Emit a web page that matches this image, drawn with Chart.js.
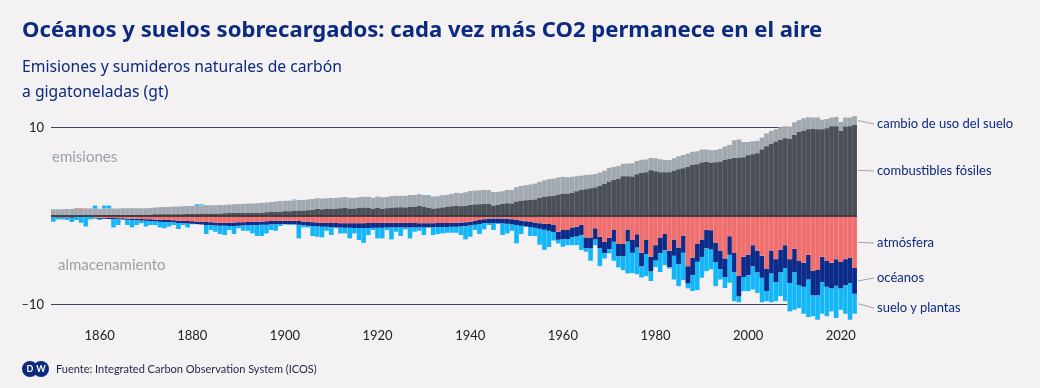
<!DOCTYPE html>
<html><head><meta charset="utf-8">
<script src="https://cdn.jsdelivr.net/npm/chart.js@4.4.1/dist/chart.umd.min.js"></script>
<style>
html,body{margin:0;padding:0;background:#f3f1f2;}
#wrap{position:relative;width:1040px;height:388px;overflow:hidden;font-family:Lato,'Noto Sans',sans-serif;}
#c{position:absolute;left:0;top:0;}
.t{position:absolute;white-space:nowrap;line-height:1.2;}
#title{left:22px;top:15px;font-family:'Noto Sans',sans-serif;font-size:22.1px;line-height:26px;font-weight:700;color:#0b2a80;}
.sub{left:22px;font-family:'Noto Sans',sans-serif;font-size:15.7px;line-height:20px;color:#0b2a80;}
.ann{font-size:15px;color:#9ca1a8;}
.lab{left:877px;font-size:13px;color:#0b2a80;}
#foot{left:56px;top:362px;font-size:11px;color:#1d2640;}
.dw{position:absolute;top:361px;width:16px;height:16px;border-radius:50%;background:#0b2a80;color:#fff;font:700 9px/16px Lato,sans-serif;text-align:center;}
</style></head>
<body><div id="wrap">
<canvas id="c" width="1040" height="388"></canvas>
<div class="t" id="title">Océanos y suelos sobrecargados: cada vez más CO2 permanece en el aire</div>
<div class="t sub" style="top:56px">Emisiones y sumideros naturales de carbón</div>
<div class="t sub" style="top:81px">a gigatoneladas (gt)</div>
<div class="t ann" style="left:52px;top:147px">emisiones</div>
<div class="t ann" style="left:58px;top:255px">almacenamiento</div>
<div class="dw" style="left:22px">D</div><div class="dw" style="left:33px">W</div>
<div class="t" id="foot">Fuente: Integrated Carbon Observation System (ICOS)</div>
<div id="labs"></div>
</div>
<script>
// ---- categories & ticks ----
const years = Array.from({length:174},(_,i)=>1850+i);
const xTickYears = [1860,1880,1900,1920,1940,1960,1980,2000,2020];
const yTickValues = [-10,0,10];

// ---- series (GtC per year) ----
const fossil = [
0.05,0.05,0.05,0.06,0.06,0.07,0.07,0.08,0.08,0.09,
0.09,0.10,0.10,0.11,0.12,0.13,0.13,0.14,0.14,0.15,
0.15,0.17,0.19,0.20,0.19,0.20,0.21,0.21,0.21,0.23,
0.24,0.26,0.27,0.28,0.28,0.28,0.28,0.30,0.33,0.33,
0.36,0.37,0.37,0.36,0.37,0.40,0.42,0.44,0.47,0.51,
0.53,0.55,0.56,0.61,0.62,0.66,0.71,0.79,0.75,0.79,
0.82,0.83,0.88,0.94,0.85,0.84,0.90,0.95,0.94,0.81,
0.93,0.83,0.87,0.96,0.97,0.98,0.97,1.05,1.05,1.12,
1.03,0.94,0.85,0.89,0.97,1.01,1.10,1.17,1.10,1.17,
1.27,1.31,1.32,1.36,1.35,1.18,1.24,1.36,1.43,1.41,
1.63,1.74,1.77,1.82,1.88,2.03,2.16,2.24,2.30,2.42,
2.55,2.55,2.64,2.79,2.93,3.03,3.15,3.24,3.42,3.62,
3.91,4.07,4.25,4.49,4.49,4.48,4.73,4.88,4.96,5.17,
5.08,4.95,4.94,4.96,5.13,5.29,5.41,5.55,5.76,5.87,
6.07,6.14,6.06,6.08,6.16,6.33,6.46,6.58,6.62,6.64,
6.87,7.00,7.11,7.54,7.90,8.15,8.42,8.64,8.80,8.72,
9.20,9.54,9.66,9.83,9.86,9.81,9.81,9.93,10.15,10.16,
9.63,10.14,10.15,10.30];

const landUse = [
0.71,0.71,0.72,0.72,0.72,0.73,0.73,0.73,0.73,0.74,
0.74,0.74,0.74,0.74,0.74,0.74,0.74,0.74,0.73,0.73,
0.74,0.76,0.78,0.80,0.82,0.84,0.86,0.87,0.88,0.89,
0.90,0.91,0.92,0.93,0.94,0.95,0.96,0.97,0.98,0.99,
1.00,1.02,1.04,1.06,1.08,1.10,1.12,1.14,1.16,1.18,
1.19,1.20,1.20,1.21,1.21,1.22,1.22,1.22,1.22,1.22,
1.22,1.22,1.22,1.22,1.23,1.23,1.23,1.24,1.25,1.26,
1.27,1.28,1.29,1.30,1.31,1.31,1.32,1.32,1.33,1.33,
1.34,1.34,1.35,1.36,1.38,1.40,1.42,1.45,1.48,1.52,
1.56,1.58,1.60,1.60,1.60,1.55,1.50,1.45,1.50,1.55,
1.62,1.68,1.72,1.76,1.80,1.85,1.90,1.92,1.95,1.95,
1.90,1.85,1.80,1.72,1.65,1.60,1.55,1.52,1.50,1.52,
1.55,1.50,1.40,1.42,1.45,1.48,1.50,1.48,1.45,1.42,
1.45,1.48,1.40,1.38,1.42,1.48,1.50,1.52,1.50,1.47,
1.45,1.40,1.38,1.40,1.45,1.55,1.60,2.00,2.05,1.75,
1.50,1.45,1.40,1.35,1.45,1.50,1.40,1.40,1.35,1.40,
1.40,1.30,1.40,1.35,1.30,1.35,1.10,1.05,1.00,1.05,
1.00,1.00,1.00,1.00];

const atmosphere = [
-0.10,-0.12,-0.13,-0.14,-0.15,0.08,0.08,0.08,0.08,-0.18,
-0.20,-0.21,-0.22,-0.24,-0.25,-0.26,-0.28,-0.30,-0.32,-0.34,
-0.36,-0.38,-0.40,-0.42,-0.44,-0.46,-0.49,-0.52,-0.55,-0.58,
-0.60,-0.63,-0.66,-0.69,-0.71,-0.73,-0.75,-0.75,-0.75,-0.74,
-0.72,-0.70,-0.68,-0.66,-0.64,-0.62,-0.60,-0.58,-0.56,-0.55,
-0.54,-0.54,-0.55,-0.58,-0.62,-0.66,-0.70,-0.73,-0.75,-0.76,
-0.78,-0.80,-0.81,-0.82,-0.82,-0.82,-0.82,-0.81,-0.80,-0.79,
-0.78,-0.77,-0.76,-0.76,-0.76,-0.77,-0.78,-0.79,-0.80,-0.81,
-0.82,-0.82,-0.81,-0.80,-0.79,-0.78,-0.77,-0.76,-0.74,-0.70,
-0.64,-0.55,-0.45,-0.36,-0.30,-0.27,-0.27,-0.28,-0.32,-0.38,
-0.45,-0.52,-0.60,-0.68,-0.74,-0.82,-0.88,-0.91,-1.02,-1.78,
-1.59,-1.59,-1.29,-1.21,-1.02,-2.42,-2.42,-1.40,-2.35,-2.92,
-2.46,-1.59,-3.18,-3.18,-1.52,-2.73,-2.08,-4.17,-2.73,-4.62,
-3.30,-2.42,-2.05,-3.94,-2.65,-3.56,-2.27,-5.68,-4.70,-3.18,
-2.65,-1.55,-1.60,-3.00,-3.90,-4.80,-2.30,-4.20,-6.80,-4.60,
-4.40,-3.30,-3.90,-4.50,-6.00,-3.90,-4.90,-3.80,-3.30,-4.90,
-3.70,-5.10,-5.30,-4.40,-6.20,-6.10,-4.60,-5.10,-5.30,-4.90,
-5.20,-4.90,-4.70,-5.90];

const oceans = [
-0.05,-0.05,-0.06,-0.06,-0.07,-0.07,-0.08,-0.08,-0.09,-0.10,
-0.10,-0.11,-0.12,-0.13,-0.13,-0.14,-0.15,-0.16,-0.17,-0.18,
-0.19,-0.20,-0.21,-0.22,-0.23,-0.24,-0.25,-0.26,-0.27,-0.28,
-0.29,-0.30,-0.31,-0.32,-0.33,-0.34,-0.35,-0.36,-0.37,-0.38,
-0.38,-0.38,-0.38,-0.38,-0.38,-0.38,-0.38,-0.38,-0.38,-0.38,
-0.38,-0.39,-0.40,-0.41,-0.42,-0.43,-0.44,-0.45,-0.46,-0.47,
-0.48,-0.49,-0.50,-0.51,-0.52,-0.53,-0.54,-0.55,-0.55,-0.55,
-0.55,-0.55,-0.55,-0.54,-0.53,-0.52,-0.51,-0.50,-0.49,-0.48,
-0.47,-0.47,-0.46,-0.46,-0.46,-0.46,-0.46,-0.45,-0.45,-0.45,
-0.44,-0.44,-0.45,-0.47,-0.50,-0.53,-0.55,-0.56,-0.57,-0.57,
-0.57,-0.57,-0.57,-0.56,-0.58,-0.62,-0.68,-0.75,-0.80,-0.90,
-1.00,-1.05,-1.10,-1.12,-1.15,-1.20,-1.25,-1.25,-1.28,-1.30,
-1.30,-1.32,-1.38,-1.40,-1.38,-1.42,-1.50,-1.55,-1.60,-1.65,
-1.75,-1.80,-1.82,-1.85,-1.85,-1.88,-1.90,-1.95,-2.00,-2.00,
-2.00,-2.10,-2.20,-2.20,-2.10,-2.10,-2.10,-2.20,-2.30,-2.30,
-2.30,-2.40,-2.50,-2.50,-2.50,-2.60,-2.60,-2.60,-2.60,-2.70,
-2.70,-2.70,-2.70,-2.80,-2.80,-2.90,-2.90,-2.90,-2.90,-3.00,
-3.00,-2.90,-2.90,-2.90];

const landPlants = [
-0.49,-0.22,-0.20,-0.25,-0.46,-0.38,-0.67,-1.12,-0.30,0.35,
-0.15,0.35,0.35,-0.92,-0.64,-0.05,-0.59,-0.83,-0.53,-0.31,
-0.65,-0.44,-0.41,-0.65,-0.73,-0.50,-0.28,-0.70,-0.20,-0.43,
-0.05,0.15,0.15,-1.04,-0.55,-0.71,-0.95,-1.05,-0.47,-0.93,
-0.30,-0.59,-0.61,-0.93,-1.25,-1.27,-0.99,-0.63,-0.73,-0.21,
-0.05,-0.10,0.10,-1.55,-0.25,-0.20,-1.13,-1.17,-1.21,-0.44,
-0.90,-0.11,-0.66,-0.64,-1.20,-0.62,-1.37,-1.67,-0.81,-0.25,
-1.21,-1.22,-0.28,-1.35,-0.49,-0.98,-0.23,-1.25,-0.49,-0.38,
-0.87,0.10,-0.89,-0.79,-0.72,-0.65,-0.66,-0.68,-0.97,-1.50,
-1.27,-0.60,-1.15,-0.69,-0.22,-0.79,-0.09,-1.32,-1.08,-0.72,
-2.09,-0.96,-0.10,-1.03,-0.95,-1.82,-2.27,-1.84,-0.96,-0.42,
-0.89,-0.66,-0.91,-0.97,-1.69,-0.43,-1.41,-0.65,-2.05,-0.58,
-0.48,-2.17,-1.27,-1.56,-3.62,-2.29,-3.01,-1.25,-2.49,-1.08,
-0.71,-2.11,-1.70,-0.16,-2.70,-2.51,-3.10,-0.57,-1.78,-3.22,
-2.35,-2.60,-2.26,-2.75,-1.20,-1.24,-3.17,-3.26,-0.67,-1.62,
-1.82,-2.63,-2.31,-2.77,-1.16,-3.27,-2.16,-2.69,-3.76,-3.20,
-4.20,-2.61,-3.06,-4.24,-2.36,-2.74,-3.56,-3.36,-2.60,-3.65,
-2.40,-3.26,-4.14,-2.26];

const seriesNames = ['combustibles fósiles','cambio de uso del suelo','atmósfera','océanos','suelo y plantas'];

// ---- styles / layout ----
const fills   = ['#4b5058','#a1a8b0','#ef6f6f','#0c2a88','#14b6f8'];
const borders = ['#6d727a','#bcc1c6','#f39a9a','#3a55a6','#84d8fb'];
const labelY  = [171,124,243,278,308]; // label centre positions, same order as seriesNames

const seriesData = [fossil, landUse, atmosphere, oceans, landPlants];

const connectors = {
  id:'connectors',
  afterDatasetsDraw(chart){
    const {ctx, chartArea:a, scales:{y}} = chart;
    ctx.save();
    const y0 = y.getPixelForValue(0);
    ctx.strokeStyle = '#15161a'; ctx.lineWidth = 1.4;
    ctx.beginPath(); ctx.moveTo(a.left, y0); ctx.lineTo(a.right, y0); ctx.stroke();
    ctx.strokeStyle = '#9ea3a9'; ctx.lineWidth = 1;
    seriesData.forEach((d,i)=>{
      const meta = chart.getDatasetMeta(i);
      const el = meta.data[meta.data.length-1];
      const cy = (el.y + el.base)/2;
      ctx.beginPath(); ctx.moveTo(a.right+1, cy); ctx.lineTo(a.right+17, labelY[i]); ctx.stroke();
    });
    ctx.restore();
  }
};

function build(){
  const labs = document.getElementById('labs');
  seriesNames.forEach((n,i)=>{
    const d = document.createElement('div');
    d.className = 't lab';
    d.textContent = n;
    d.style.top = (labelY[i] - 8.5) + 'px';
    labs.appendChild(d);
  });

  new Chart(document.getElementById('c'), {
    type:'bar',
    data:{
      labels: years,
      datasets: seriesData.map((d,i)=>({
        label: seriesNames[i], data: d,
        backgroundColor: fills[i], borderColor: borders[i],
        borderWidth: {left:0.5,right:0.5,top:0,bottom:0}, borderSkipped:false,
        barPercentage:1, categoryPercentage:1
      }))
    },
    options:{
      responsive:false, animation:false, devicePixelRatio:1,
      layout:{padding:{left:0,right:183,top:110,bottom:0}},
      plugins:{legend:{display:false}, tooltip:{enabled:false}},
      scales:{
        x:{
          stacked:true, offset:true,
          grid:{display:false, drawTicks:false}, border:{display:false},
          ticks:{autoSkip:false, maxRotation:0, minRotation:0, padding:6, color:'#222',
            font:{family:'Lato', size:13},
            callback:function(v){ const yr = years[v]; return xTickYears.includes(yr) ? String(yr) : null; }},
          afterFit:s=>{ s.height = 66; }
        },
        y:{
          stacked:true, min:-12, max:12,
          grid:{color:c=> (c.tick && c.tick.value===0) ? 'rgba(0,0,0,0)' : '#3e4556', lineWidth:1, drawTicks:false},
          border:{display:false},
          afterBuildTicks:s=>{ s.ticks = yTickValues.map(v=>({value:v})); },
          ticks:{padding:7, color:'#222', font:{family:'Lato', size:13},
            callback:v=> v===0 ? '' : (v<0 ? '–' + Math.abs(v) : String(v))},
          afterFit:s=>{ s.width = 51; }
        }
      }
    },
    plugins:[connectors]
  });
}
(document.fonts && document.fonts.load ? Promise.all([document.fonts.load('13px Lato'),document.fonts.load('700 22px "Noto Sans"'),document.fonts.load('16px "Noto Sans"')]) : Promise.resolve()).then(build, build);
</script>
</body></html>
